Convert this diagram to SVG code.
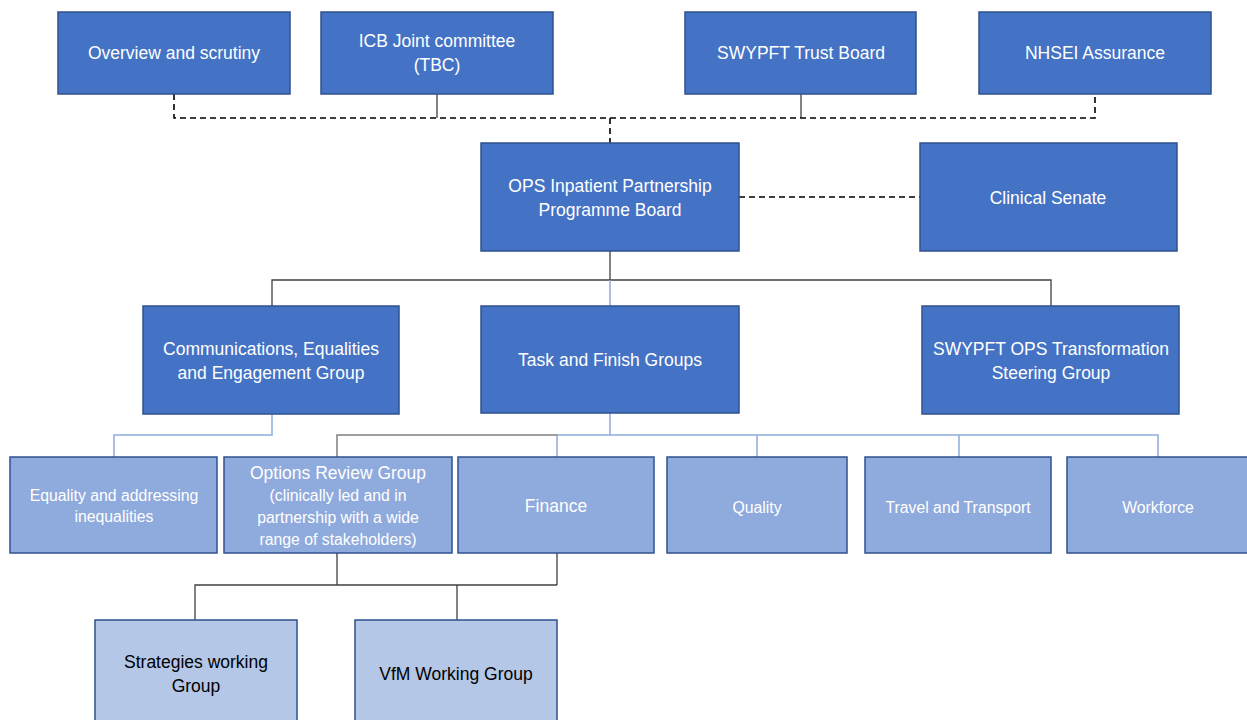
<svg xmlns="http://www.w3.org/2000/svg" width="1247" height="720" viewBox="0 0 1247 720">
<style>
.dark{fill:#4472C4;stroke:#2F528F;stroke-width:1.5}
.mid{fill:#8FAADC;stroke:#2F528F;stroke-width:1.5}
.pale{fill:#B4C7E7;stroke:#2F528F;stroke-width:1.5}
text{font-family:"Liberation Sans",Arial,sans-serif;text-anchor:middle;dominant-baseline:central}
.t1{fill:#ffffff;font-size:17.5px}
.t2{fill:#ffffff;font-size:15.8px}
.t3{fill:#000000;font-size:17.5px}
.solid{fill:none;stroke:#404040;stroke-width:1.3}
.dash{fill:none;stroke:#000000;stroke-width:1.6;stroke-dasharray:6,4}
.blue{fill:none;stroke:#8FAADC;stroke-width:1.5}
.gray{fill:none;stroke:#7F7F7F;stroke-width:1.5}
</style>
<rect width="1247" height="720" fill="#ffffff"/>
<g id="connectors">
<path class="solid" d="M437 94V118M801 94V118"/>
<path class="dash" d="M174 94V118H1095V94"/>
<path class="dash" d="M610 118V143"/>
<path class="dash" d="M739 197H920"/>
<path class="solid" d="M610 251V280M272 306V280H1051V306"/>
<path class="blue" d="M610 280V306"/>
<path class="blue" d="M272 414V435H114V457"/>
<path class="blue" d="M610 413V435M557 435H1158V457M557 435V457M757 435V457M959 435V457"/>
<path class="gray" d="M337 457V435H557"/>
<path class="solid" d="M337 553V585M557 553V585M195 620V585H557M457 585V620"/>
</g>
<g id="overview"><rect class="dark" x="58" y="12" width="232" height="82"/><text class="t1" x="174" y="53">Overview and scrutiny</text></g>
<g id="icb"><rect class="dark" x="321" y="12" width="232" height="82"/><text class="t1" x="437" y="41">ICB Joint committee</text><text class="t1" x="437" y="65">(TBC)</text></g>
<g id="trust-board"><rect class="dark" x="685" y="12" width="231" height="82"/><text class="t1" x="801" y="53">SWYPFT Trust Board</text></g>
<g id="nhsei"><rect class="dark" x="979" y="12" width="232" height="82"/><text class="t1" x="1095" y="53">NHSEI Assurance</text></g>
<g id="programme-board"><rect class="dark" x="481" y="143" width="258" height="108"/><text class="t1" x="610" y="186">OPS Inpatient Partnership</text><text class="t1" x="610" y="210">Programme Board</text></g>
<g id="clinical-senate"><rect class="dark" x="920" y="143" width="257" height="108"/><text class="t1" x="1048" y="198">Clinical Senate</text></g>
<g id="comms"><rect class="dark" x="143" y="306" width="256" height="108"/><text class="t1" x="271" y="349">Communications, Equalities</text><text class="t1" x="271" y="373">and Engagement Group</text></g>
<g id="task-finish"><rect class="dark" x="481" y="306" width="258" height="107"/><text class="t1" x="610" y="360">Task and Finish Groups</text></g>
<g id="steering"><rect class="dark" x="922" y="306" width="257" height="108"/><text class="t1" x="1051" y="349">SWYPFT OPS Transformation</text><text class="t1" x="1051" y="373">Steering Group</text></g>
<g id="equality"><rect class="mid" x="10" y="457" width="207" height="96"/><text class="t2" x="114" y="495">Equality and addressing</text><text class="t2" x="114" y="516">inequalities</text></g>
<g id="options"><rect class="mid" x="224" y="457" width="228" height="96"/><text class="t1" x="338" y="473">Options Review  Group</text><text class="t2" x="338" y="495">(clinically led and in</text><text class="t2" x="338" y="517">partnership with a wide</text><text class="t2" x="338" y="539">range of stakeholders)</text></g>
<g id="finance"><rect class="mid" x="458" y="457" width="196" height="96"/><text class="t1" x="556" y="506">Finance</text></g>
<g id="quality"><rect class="mid" x="667" y="457" width="180" height="96"/><text class="t2" x="757" y="507">Quality</text></g>
<g id="travel"><rect class="mid" x="865" y="457" width="186" height="96"/><text class="t2" x="958" y="507">Travel and Transport</text></g>
<g id="workforce"><rect class="mid" x="1067" y="457" width="182" height="96"/><text class="t2" x="1158" y="507">Workforce</text></g>
<g id="strategies"><rect class="pale" x="95" y="620" width="202" height="104"/><text class="t3" x="196" y="662">Strategies working</text><text class="t3" x="196" y="686">Group</text></g>
<g id="vfm"><rect class="pale" x="355" y="620" width="202" height="104"/><text class="t3" x="456" y="674">VfM Working Group</text></g>
</svg>
